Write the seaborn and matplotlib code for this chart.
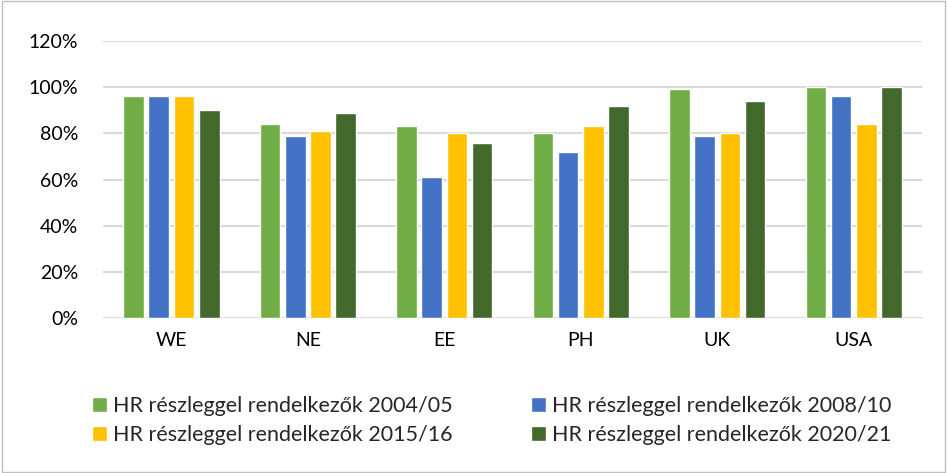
import matplotlib
matplotlib.use("Agg")
import matplotlib.pyplot as plt
import seaborn as sns
import pandas as pd
from matplotlib.ticker import FuncFormatter
from matplotlib.patches import Rectangle

regions = ["WE", "NE", "EE", "PH", "UK", "USA"]
series = ["HR részleggel rendelkezők 2004/05",
          "HR részleggel rendelkezők 2008/10",
          "HR részleggel rendelkezők 2015/16",
          "HR részleggel rendelkezők 2020/21"]
v_2004 = [96, 84, 83, 80, 99, 100]
v_2008 = [96, 79, 61, 72, 79, 96]
v_2015 = [96, 81, 80, 83, 80, 84]
v_2020 = [90, 89, 76, 92, 94, 100]
colors = ["#70AD47", "#4472C4", "#FFC000", "#43682B"]
yticks = [0, 20, 40, 60, 80, 100, 120]

rows = []
for s, vals in zip(series, [v_2004, v_2008, v_2015, v_2020]):
    for r, v in zip(regions, vals):
        rows.append({"region": r, "series": s, "value": v})
df = pd.DataFrame(rows)

sns.set_theme(style="white")
plt.rcParams["font.family"] = ["Lato", "DejaVu Sans"]

fig = plt.figure(figsize=(9.47, 4.73), dpi=100)
ax = fig.add_axes([0.1088, 0.3277, 0.9736 - 0.1088, 0.9133 - 0.3277])

sns.barplot(data=df, x="region", y="value", hue="series", hue_order=series,
            order=regions, palette=colors, width=0.74, gap=0.18, ax=ax,
            legend=True, saturation=1)

ax.set_ylim(0, 120)
ax.set_yticks(yticks)
ax.yaxis.set_major_formatter(FuncFormatter(lambda v, p: f"{v:.0f}%"))
ax.grid(axis="y", color="#D9D9D9", linewidth=1.5)
ax.set_axisbelow(True)
for sp in ax.spines.values():
    sp.set_visible(False)
ax.set_xlabel("")
ax.set_ylabel("")
ax.tick_params(axis="both", length=0, labelsize=14, colors="#000000")
ax.tick_params(axis="y", pad=18)
ax.tick_params(axis="x", pad=10)

handles, labels = ax.get_legend_handles_labels()
ax.get_legend().remove()
idx = [0, 2, 1, 3]
fig.legend([handles[i] for i in idx], [labels[i] for i in idx], ncol=2,
           loc="upper left", bbox_to_anchor=(0.088, 0.18),
           frameon=False, fontsize=15.5, handlelength=0.7, handleheight=0.7,
           handletextpad=0.3, columnspacing=3.6, labelspacing=0.4,
           borderaxespad=0)

fig.patches.append(Rectangle((0.002, 0.002), 0.996, 0.996, transform=fig.transFigure,
                             fill=False, edgecolor="#BFBFBF", linewidth=1))

fig.savefig("out.png", dpi=100)
